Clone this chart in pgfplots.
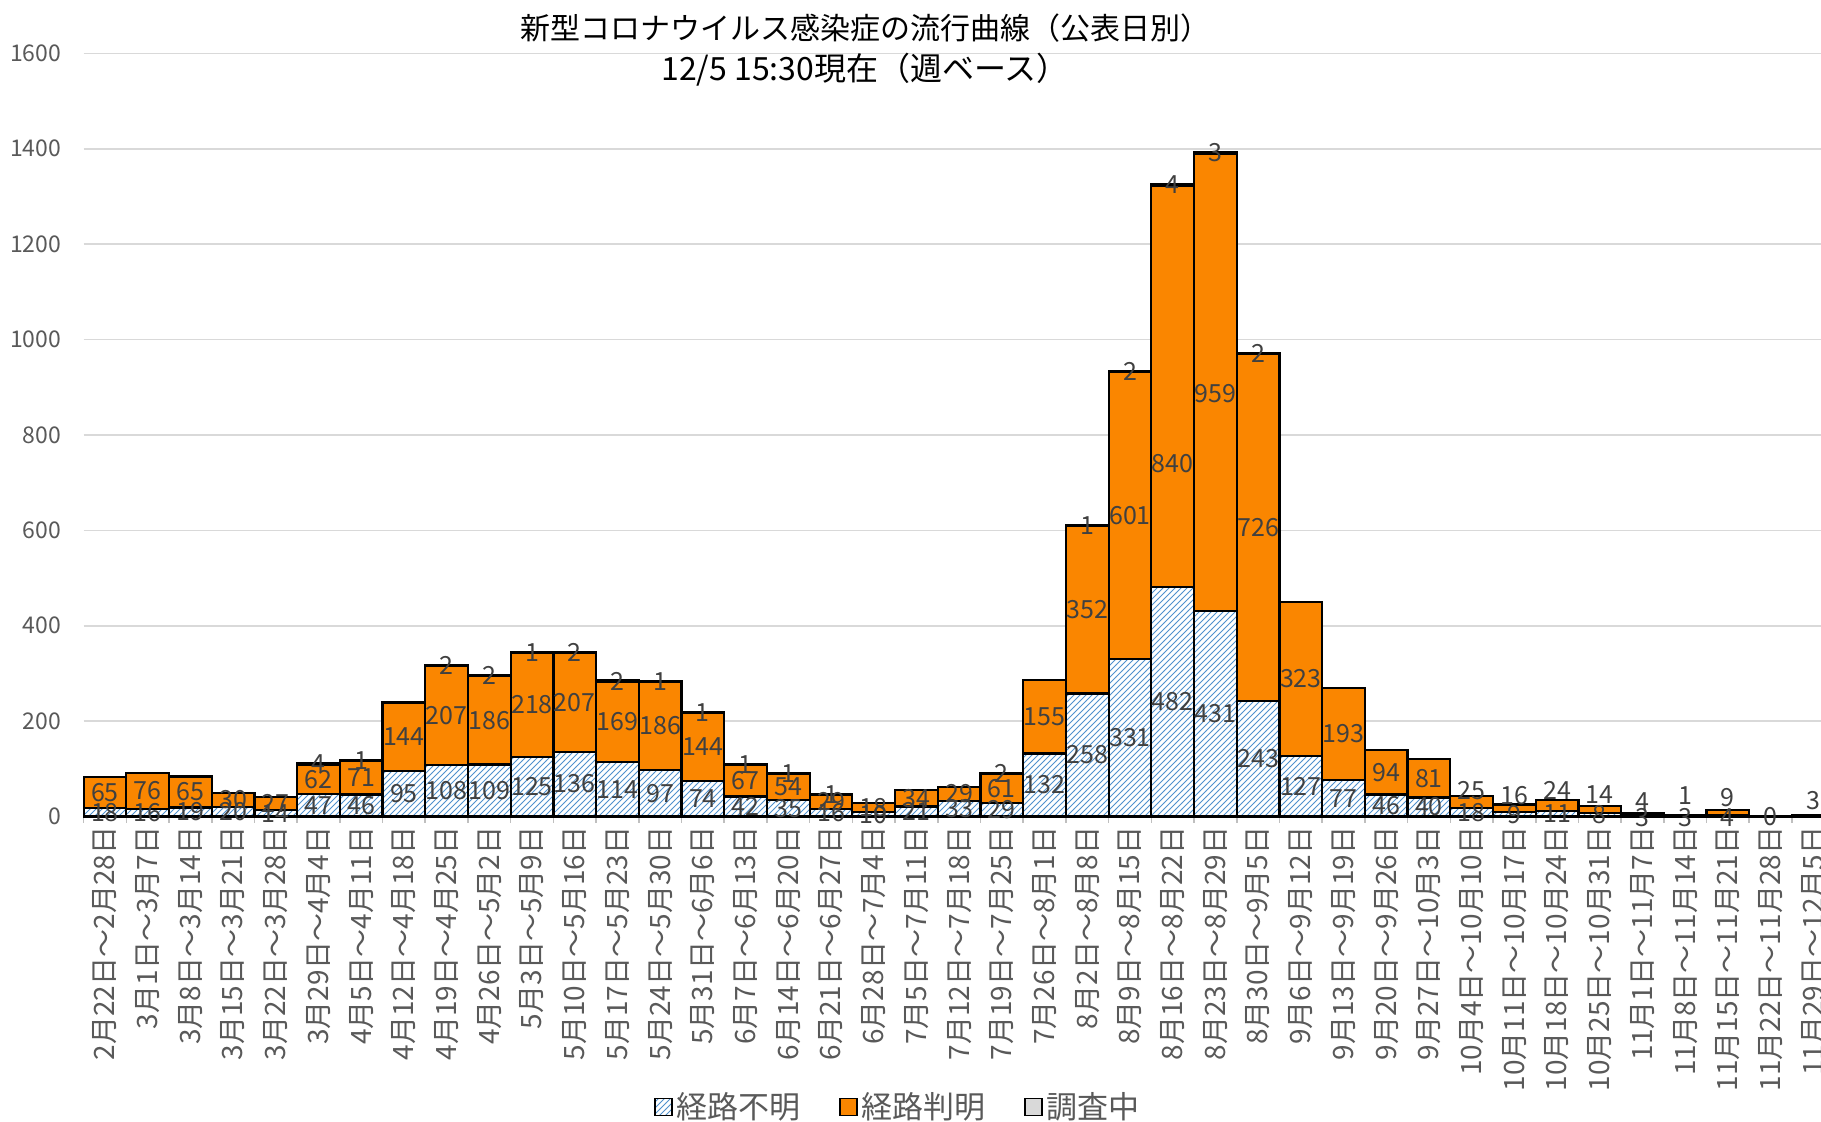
\documentclass[border=0pt]{standalone}
\usepackage{pgfplots}
\pgfplotsset{compat=1.18}
\usepackage{pgfplotstable}
\usetikzlibrary{patterns}
\usepackage{fontspec}
\setmainfont{Noto Sans CJK JP}
\definecolor{orng}{RGB}{250,134,0}
\definecolor{hatchblue}{RGB}{80,145,205}
\definecolor{greyfill}{RGB}{217,217,217}
\definecolor{gridgrey}{RGB}{217,217,217}
\definecolor{axisgrey}{RGB}{191,191,191}
\definecolor{tickgrey}{RGB}{89,89,89}
\definecolor{labgrey}{RGB}{64,64,64}

\pgfplotstableread{
i u k c uy ky cy
0 18 65 0 9 50.5 nan
1 16 76 0 8 54 nan
2 19 65 0 9.5 51.5 nan
3 20 30 0 10 35 nan
4 14 27 0 7 27.5 nan
5 47 62 4 23.5 78 111
6 46 71 1 23 81.5 117.5
7 95 144 0 47.5 167 nan
8 108 207 2 54 211.5 316
9 109 186 2 54.5 202 296
10 125 218 1 62.5 234 343.5
11 136 207 2 68 239.5 344
12 114 169 2 57 198.5 284
13 97 186 1 48.5 190 283.5
14 74 144 1 37 146 218.5
15 42 67 1 21 75.5 109.5
16 35 54 1 17.5 62 89.5
17 16 29 1 8 30.5 45.5
18 10 18 0 5 19 nan
19 21 34 0 10.5 38 nan
20 33 29 0 16.5 47.5 nan
21 29 61 2 14.5 59.5 91
22 132 155 0 66 209.5 nan
23 258 352 1 129 434 610.5
24 331 601 2 165.5 631.5 933
25 482 840 4 241 740 1324
26 431 959 3 215.5 887 1391.5
27 243 726 2 121.5 606 970
28 127 323 0 63.5 288.5 nan
29 77 193 0 38.5 173.5 nan
30 46 94 0 23 93 nan
31 40 81 0 20 80.5 nan
32 18 25 0 9 54 nan
33 9 16 0 4.5 43 nan
34 11 24 0 5.5 54 nan
35 8 14 0 4 47 nan
36 3 4 0 -3 31 nan
37 3 1 0 -3 43 nan
38 4 9 0 -2 40 nan
39 0 0 0 0 nan nan
40 0 3 0 nan 34 nan
}\data

\begin{document}
\begin{tikzpicture}
\begin{axis}[
  at={(0,0)}, anchor=south west,
  scale only axis, width=868.7pt, height=381.55pt,
  xmin=-0.5, xmax=40.18, ymin=0, ymax=1600,
  clip=false,
  ytick={0,200,...,1600},
  xtick={0,...,40},
  xticklabels={2月22日～2月28日, 3月1日～3月7日, 3月8日～3月14日, 3月15日～3月21日, 3月22日～3月28日, 3月29日～4月4日, 4月5日～4月11日, 4月12日～4月18日, 4月19日～4月25日, 4月26日～5月2日, 5月3日～5月9日, 5月10日～5月16日, 5月17日～5月23日, 5月24日～5月30日, 5月31日～6月6日, 6月7日～6月13日, 6月14日～6月20日, 6月21日～6月27日, 6月28日～7月4日, 7月5日～7月11日, 7月12日～7月18日, 7月19日～7月25日, 7月26日～8月1日, 8月2日～8月8日, 8月9日～8月15日, 8月16日～8月22日, 8月23日～8月29日, 8月30日～9月5日, 9月6日～9月12日, 9月13日～9月19日, 9月20日～9月26日, 9月27日～10月3日, 10月4日～10月10日, 10月11日～10月17日, 10月18日～10月24日, 10月25日～10月31日, 11月1日～11月7日, 11月8日～11月14日, 11月15日～11月21日, 11月22日～11月28日, 11月29日～12月5日},
  minor xtick={-0.5,0.5,...,40.5},
  major tick length=0pt, minor tick length=3pt, tick align=outside,
  tick style={axisgrey, line width=0.8pt},
  axis x line*=bottom, axis y line*=left,
  x axis line style={axisgrey, line width=1pt},
  y axis line style={draw=none},
  ymajorgrids, grid style={gridgrey, line width=0.8pt},
  /pgf/number format/assume math mode=true,
  /pgf/number format/set thousands separator={},
  yticklabel style={font=\fontsize{11.5}{12}\selectfont, text=tickgrey, inner sep=0pt},
  yticklabel shift=11pt,
  xticklabel style={rotate=90, anchor=east, font=\fontsize{14}{14}\selectfont, text=tickgrey, inner sep=0pt},
  xticklabel shift=5pt,
  legend style={at={(0.4693,-0.3807)}, anchor=center, draw=none, fill=none,
    font=\fontsize{15.5}{16}\selectfont, text=tickgrey,
    /tikz/every even column/.append style={column sep=17pt}},
  legend columns=3,
  legend cell align=left,
]
\addplot[ybar, bar width=1, bar shift=0pt, draw=black, line width=1.1pt, fill=greyfill, forget plot]
  table[x=i, y expr=\thisrow{u}+\thisrow{k}+\thisrow{c}] {\data};
\addplot[ybar, bar width=1, bar shift=0pt, draw=black, line width=1.1pt, fill=orng, forget plot]
  table[x=i, y expr=\thisrow{u}+\thisrow{k}] {\data};
\addplot[ybar, bar width=1, bar shift=0pt, draw=black, line width=1.1pt, fill=white,
  postaction={pattern=north east lines, pattern color=hatchblue}, forget plot]
  table[x=i, y=u] {\data};

\addplot[draw=none, mark=none, forget plot, nodes near coords, point meta=explicit symbolic,
  every node near coord/.style={anchor=center, font=\fontsize{12.5}{13}\selectfont, text=labgrey, inner sep=0pt}]
  table[x=i, y=uy, meta=u] {\data};
\addplot[draw=none, mark=none, forget plot, nodes near coords, point meta=explicit symbolic,
  every node near coord/.style={anchor=center, font=\fontsize{12.5}{13}\selectfont, text=labgrey, inner sep=0pt}]
  table[x=i, y=ky, meta=k] {\data};
\addplot[draw=none, mark=none, forget plot, nodes near coords, point meta=explicit symbolic,
  every node near coord/.style={anchor=center, font=\fontsize{12.5}{13}\selectfont, text=labgrey, inner sep=0pt}]
  table[x=i, y=cy, meta=c] {\data};

\addlegendimage{legend image code/.code={\draw[draw=black, line width=0.8pt, fill=white, postaction={pattern=north east lines, pattern color=hatchblue}] (0pt,-4.3pt) rectangle (8.7pt,4.3pt);}}
\addlegendentry{経路不明}
\addlegendimage{legend image code/.code={\draw[draw=black, line width=0.8pt, fill=orng] (0pt,-4.3pt) rectangle (8.7pt,4.3pt);}}
\addlegendentry{経路判明}
\addlegendimage{legend image code/.code={\draw[draw=black, line width=0.8pt, fill=greyfill] (0pt,-4.3pt) rectangle (8.7pt,4.3pt);}}
\addlegendentry{調査中}

\node[font=\fontsize{15}{15}\selectfont, text=black] at (axis description cs:0.4498,1.0333) {新型コロナウイルス感染症の流行曲線（公表日別）};
\node[font=\fontsize{16}{16}\selectfont, text=black] at (axis description cs:0.4498,0.9782) {12/5 15:30現在（週ベース）};
\end{axis}
\pgfresetboundingbox
\useasboundingbox (-41.8pt,-152.25pt) rectangle (868.7pt,408.25pt);
\end{tikzpicture}
\end{document}
